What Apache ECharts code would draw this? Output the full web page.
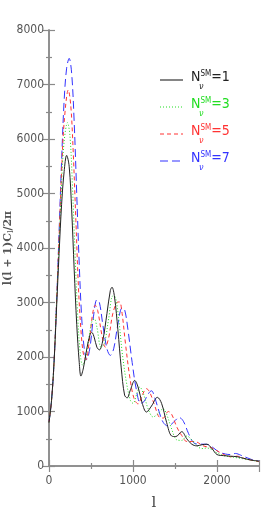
<!DOCTYPE html>
<html><head><meta charset="utf-8">
<script src="https://cdn.jsdelivr.net/npm/echarts@6/dist/echarts.min.js"></script>
<style>html,body{margin:0;padding:0;background:#fff}#c{width:275px;height:513px}</style>
</head><body><div id="c"></div>
<script>
const xTicks = [0, 1000, 2000];
const yTicks = [0, 1000, 2000, 3000, 4000, 5000, 6000, 7000, 8000];
const legendLabels = ['1', '3', '5', '7'];
const seriesN1 = [[0,800],[30,1200],[60,1900],[90,2900],[120,3900],[150,4800],[180,5400],[210,5700],[240,5500],[270,4700],[300,3600],[330,2600],[360,1900],[380,1650],[410,1800],[450,2150],[490,2420],[510,2450],[540,2350],[570,2180],[600,2130],[640,2300],[690,2800],[730,3220],[750,3280],[780,3100],[820,2500],[860,1800],[900,1300],[930,1250],[970,1400],[1020,1570],[1060,1450],[1110,1150],[1160,990],[1220,1100],[1290,1260],[1340,1150],[1400,800],[1460,550],[1510,540],[1580,630],[1640,500],[1700,400],[1760,370],[1820,390],[1880,400],[1940,320],[2000,210],[2080,190],[2160,180],[2240,170],[2320,140],[2400,110],[2500,90]];
const seriesN3 = [[0,800],[30,1200],[60,1900],[90,3000],[120,4100],[150,5200],[180,5950],[220,6300],[250,6050],[280,5100],[310,3900],[340,2800],[370,2100],[400,1850],[430,1950],[470,2300],[510,2650],[540,2700],[570,2550],[620,2180],[660,2250],[710,2700],[760,3120],[790,3100],[830,2700],[870,2100],[920,1550],[970,1200],[1000,1150],[1050,1350],[1080,1450],[1130,1300],[1180,1050],[1240,900],[1290,950],[1360,1050],[1400,950],[1460,680],[1520,480],[1580,470],[1640,550],[1700,480],[1760,370],[1820,320],[1880,330],[1940,300],[2000,240],[2080,190],[2160,170],[2240,150],[2320,130],[2400,110],[2500,80]];
const seriesN5 = [[0,800],[30,1200],[60,1900],[90,3000],[120,4200],[150,5400],[180,6300],[230,6900],[260,6600],[290,5700],[320,4500],[350,3300],[380,2500],[410,2050],[440,1950],[480,2300],[520,2800],[550,2950],[580,2850],[630,2400],[670,2180],[710,2350],[760,2800],[810,3000],[840,3010],[870,2800],[910,2250],[960,1650],[1010,1250],[1060,1140],[1110,1300],[1160,1420],[1200,1350],[1260,1100],[1310,900],[1360,880],[1420,1000],[1460,950],[1520,720],[1580,560],[1640,450],[1700,450],[1760,440],[1820,380],[1880,350],[1940,330],[2000,280],[2080,210],[2160,170],[2240,180],[2320,140],[2400,110],[2500,80]];
const seriesN7 = [[0,800],[30,1200],[60,1900],[90,3000],[120,4300],[150,5600],[180,6700],[210,7300],[240,7480],[270,7200],[300,6300],[330,5000],[360,3700],[390,2700],[420,2150],[450,1950],[490,2200],[530,2750],[570,3050],[600,3000],[640,2600],[690,2150],[730,2030],[770,2150],[820,2600],[870,2900],[900,2870],[940,2500],[990,1900],[1040,1400],[1090,1150],[1130,1180],[1180,1320],[1220,1380],[1260,1250],[1310,1000],[1360,800],[1420,730],[1480,800],[1550,890],[1600,820],[1660,600],[1720,430],[1780,400],[1840,400],[1900,390],[1960,330],[2020,260],[2100,220],[2160,210],[2220,230],[2280,200],[2360,150],[2430,110],[2500,90]];

const colors = ['#222222', '#22dd22', '#ff3333', '#3333ff'];
const dashes = ['solid', [1, 2], [4, 3], [8, 4]];
const allSeries = [seriesN1, seriesN3, seriesN5, seriesN7];
const FONT = '"Liberation Sans Narrow","DejaVu Sans Condensed","Liberation Sans",sans-serif';
const frame = '#8a8a8a';

function axisBase(showLabel) {
  return {
    type: 'value',
    axisLine: { show: true, lineStyle: { color: frame, width: 1.5 } },
    axisTick: { show: true, inside: true, length: 6, lineStyle: { color: frame, width: 1.2 } },
    minorTick: { show: true, splitNumber: 2, length: 3, lineStyle: { color: frame, width: 1.2 } },
    splitLine: { show: false },
    axisLabel: { show: showLabel, color: '#555', fontFamily: FONT, fontSize: 12 }
  };
}

const chart = echarts.init(document.getElementById('c'), null, { renderer: 'canvas' });
const xMain = Object.assign(axisBase(true), {
  position: 'bottom', min: 0, max: 2500, interval: 1000,
  name: 'l', nameLocation: 'middle', nameGap: 30, nameMoveOverlap: false,
  nameTextStyle: { fontFamily: '"DejaVu Serif",serif', fontSize: 15, color: '#444' }
});
xMain.axisLabel.formatter = v => (xTicks.indexOf(v) >= 0 ? String(v) : '');
xMain.axisLabel.margin = 9;
const xTop = Object.assign(axisBase(false), { position: 'top', min: 0, max: 2500, interval: 1000 });
const yMain = Object.assign(axisBase(true), {
  position: 'left', min: 0, max: 8000, interval: 1000,
  name: '{a|l(l + 1)C}{s|l}{a|/2π}', nameLocation: 'middle', nameGap: 34, nameRotate: 90, nameMoveOverlap: false,
  nameTextStyle: { rich: { a: { fontFamily: '"DejaVu Serif",serif', fontSize: 11, fontWeight: 'bold', color: '#555' },
                           s: { fontFamily: '"DejaVu Serif",serif', fontSize: 8, color: '#555', verticalAlign: 'bottom', padding: [6,0,0,0] } } }
});
yMain.axisLabel.formatter = v => (yTicks.indexOf(v) >= 0 ? String(v) : '');
yMain.axisLabel.margin = 5;
const yRight = Object.assign(axisBase(false), { position: 'right', min: 0, max: 8000, interval: 1000 });

const series = allSeries.map((d, i) => ({
  type: 'line', xAxisIndex: 0, yAxisIndex: 0, data: d, smooth: 0.35, showSymbol: false,
  lineStyle: { color: colors[i], width: 1, type: dashes[i] }, z: 5 - i
}));

const legendItems = [];
legendLabels.forEach((lab, i) => {
  const y = 80 + i * 27;
  legendItems.push({ type: 'line', shape: { x1: 160, y1: y, x2: 183, y2: y },
    style: { stroke: colors[i], lineWidth: 1.1, lineDash: dashes[i] === 'solid' ? null : dashes[i] } });
  legendItems.push({ type: 'text', left: 191, top: y - 10,
    style: { text: '{n|N}{p|SM}{e|=' + lab + '}', fill: colors[i],
      rich: { n: { fontFamily: FONT, fontSize: 14, fill: colors[i] },
              p: { fontFamily: FONT, fontSize: 8, fill: colors[i], verticalAlign: 'top', padding: [0,0,6,0] },
              e: { fontFamily: FONT, fontSize: 14, fill: colors[i] } } } });
  legendItems.push({ type: 'text', left: 199, top: y + 2,
    style: { text: 'ν', fill: colors[i], font: 'italic 9px ' + FONT } });
});

chart.setOption({
  backgroundColor: '#fff',
  animation: false,
  grid: { left: 49, right: 16, top: 30, bottom: 47, containLabel: false, outerBoundsMode: 'none' },
  xAxis: [xMain, xTop],
  yAxis: [yMain, yRight],
  series: series,
  graphic: legendItems
});
</script></body></html>
